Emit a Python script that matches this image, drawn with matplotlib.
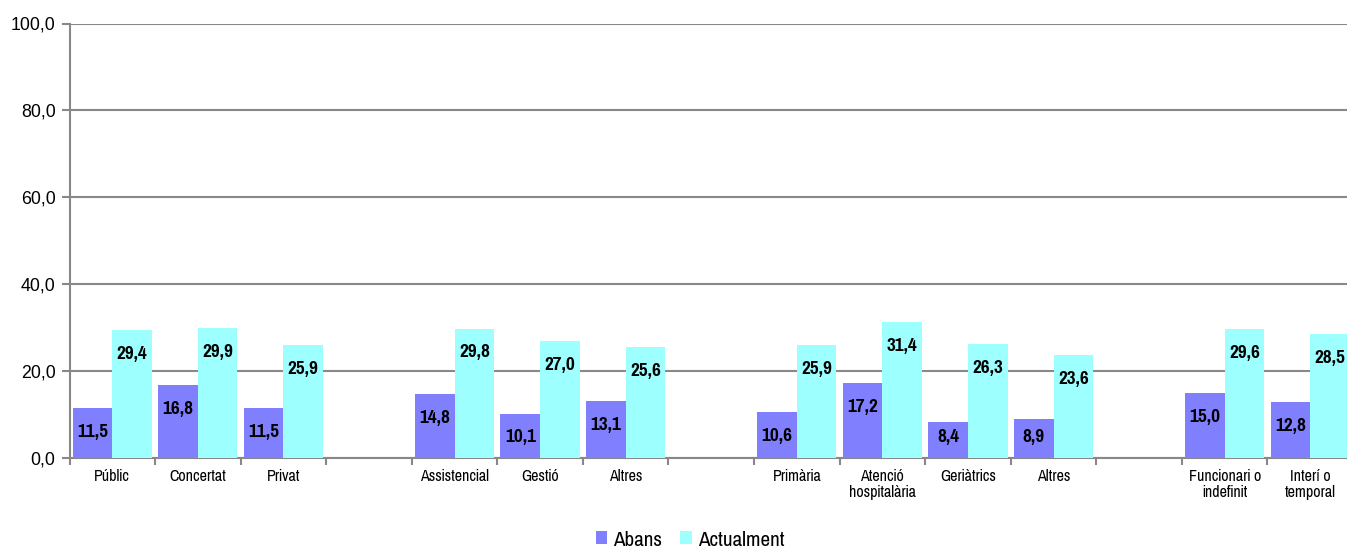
import matplotlib
matplotlib.use("Agg")
import matplotlib.pyplot as plt
from matplotlib import font_manager
import numpy as np

categories = ["Públic", "Concertat", "Privat", "",
              "Assistencial", "Gestió", "Altres", "",
              "Primària", "Atenció\nhospitalària", "Geriàtrics", "Altres", "",
              "Funcionari o\nindefinit", "Interí o\ntemporal"]
abans = [11.5, 16.8, 11.5, None, 14.8, 10.1, 13.1, None,
         10.6, 17.2, 8.4, 8.9, None, 15.0, 12.8]
actualment = [29.4, 29.9, 25.9, None, 29.8, 27.0, 25.6, None,
              25.9, 31.4, 26.3, 23.6, None, 29.6, 28.5]
yticks = [0, 20, 40, 60, 80, 100]
series_names = ["Abans", "Actualment"]

names = {f.name for f in font_manager.fontManager.ttflist}
narrow = "Liberation Sans"
for cand in ["Liberation Sans Narrow", "Arial Narrow", "Pragati Narrow",
             "Archivo Narrow", "PT Sans Narrow", "Roboto Condensed"]:
    if cand in names:
        narrow = cand
        break
NARROW = [narrow, "DejaVu Sans"]
REG = ["Liberation Sans", "DejaVu Sans"]

fig = plt.figure(figsize=(13.47, 5.51), dpi=100)
ax = fig.add_axes([69.5 / 1347, 93 / 551, (1353 - 69.5) / 1347, (458 - 23.5) / 551])

x = np.arange(len(categories))
w = 0.463
c1, c2 = "#8080FF", "#9EFFFF"
px_per_unit = 435 / 100

for vals, off, col, name in [(abans, -w / 2, c1, series_names[0]),
                             (actualment, w / 2, c2, series_names[1])]:
    xs = [xi + off for xi, v in zip(x, vals) if v is not None]
    vs = [v for v in vals if v is not None]
    ax.bar(xs, vs, width=w, color=col, label=name, zorder=3)
    for xi, v in zip(xs, vs):
        yc = max(v - 24 / px_per_unit, 21 / px_per_unit)
        ax.text(xi, yc, f"{v:.1f}".replace(".", ","), ha="center", va="center",
                fontsize=15, fontweight="bold", family=NARROW, zorder=4)

ax.set_xlim(-0.5, len(categories) - 0.5)
ax.set_ylim(0, 100)
ax.set_yticks(yticks)
ax.set_yticklabels([f"{t:.1f}".replace(".", ",") for t in yticks],
                   fontsize=12.8, family=REG)
ax.yaxis.grid(True, color="#888888", linewidth=1.5, zorder=0)
ax.set_axisbelow(True)

ax.set_xticks(np.arange(len(categories) + 1) - 0.5)
ax.set_xticklabels([])
ax.set_xticks(x, minor=True)
ax.set_xticklabels(categories, minor=True, fontsize=12.5, family=NARROW,
                   linespacing=1.05)
ax.tick_params(axis="x", which="minor", length=0, pad=8)
ax.tick_params(axis="x", which="major", length=5, width=1.5, color="#888888")
ax.tick_params(axis="y", length=6, width=1.5, color="#888888", pad=4)

for s in ["top", "right"]:
    ax.spines[s].set_visible(False)
for s in ["left", "bottom"]:
    ax.spines[s].set_color("#888888")
    ax.spines[s].set_linewidth(1.5)

leg = fig.legend(loc="center", bbox_to_anchor=(690 / 1347, 1 - 540 / 551), ncol=2,
                 frameon=False, prop={"family": NARROW, "size": 16.5},
                 handlelength=0.5, handleheight=0.5, handletextpad=0.25,
                 columnspacing=0.8)

fig.savefig("out.png", dpi=100)
